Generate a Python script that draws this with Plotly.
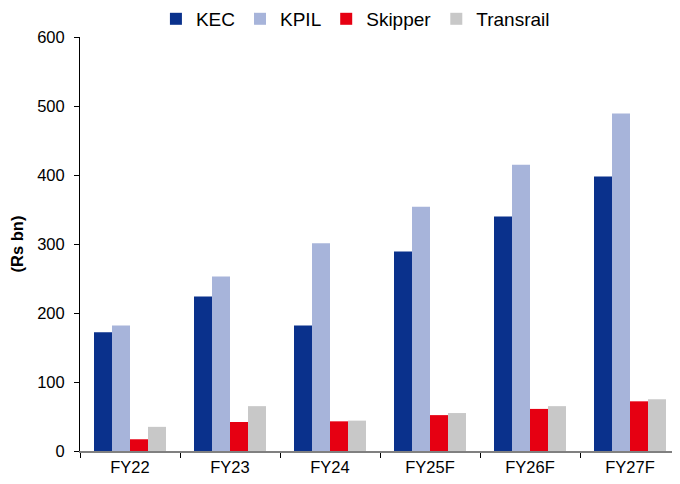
import plotly.graph_objects as go

categories = ["FY22", "FY23", "FY24", "FY25F", "FY26F", "FY27F"]
kec = [172, 224, 182, 289, 340, 398]
kpil = [182, 253, 301, 354, 415, 489]
skipper = [17, 42, 43, 52, 61, 72]
transrail = [35, 65, 44, 55, 65, 75]
y_ticks = [0, 100, 200, 300, 400, 500, 600]

series = [
    ("KEC", kec, "#0A318C"),
    ("KPIL", kpil, "#A7B4DA"),
    ("Skipper", skipper, "#E60012"),
    ("Transrail", transrail, "#C8C8C8"),
]

fig = go.Figure()
for name, vals, color in series:
    fig.add_trace(go.Bar(x=categories, y=vals, name=name, marker=dict(color=color, line=dict(width=0))))

# page body has an 8px margin; figure sized/margined to compensate
fig.update_layout(
    width=672, height=476,
    margin=dict(l=72, r=0, t=29, b=33, autoexpand=False),
    paper_bgcolor="white", plot_bgcolor="white",
    barmode="group", bargap=0.28, bargroupgap=0,
    font=dict(family="Arial, Liberation Sans", size=16.5, color="black"),
    legend=dict(orientation="h", xref="container", yref="container",
                x=0.517, xanchor="center", y=0.977, yanchor="middle",
                font=dict(size=19), itemwidth=30, traceorder="normal",
                tracegroupgap=0),
    showlegend=True,
)
fig.update_xaxes(showline=True, linecolor="#808080", linewidth=1.5,
                 ticks="outside", tickson="boundaries", ticklen=5, tickcolor="black",
                 tickfont=dict(size=16.5), showgrid=False, automargin=False)
fig.update_yaxes(range=[0, 600], tickvals=y_ticks, showline=True, linecolor="black", linewidth=1,
                 ticks="outside", ticklen=5, tickcolor="black", showgrid=False, zeroline=False,
                 tickfont=dict(size=16.5), automargin=False, ticklabelstandoff=6,
                 title=dict(text="<b>(Rs bn)</b>", font=dict(size=16.5), standoff=10))

fig.write_html("out.html")
